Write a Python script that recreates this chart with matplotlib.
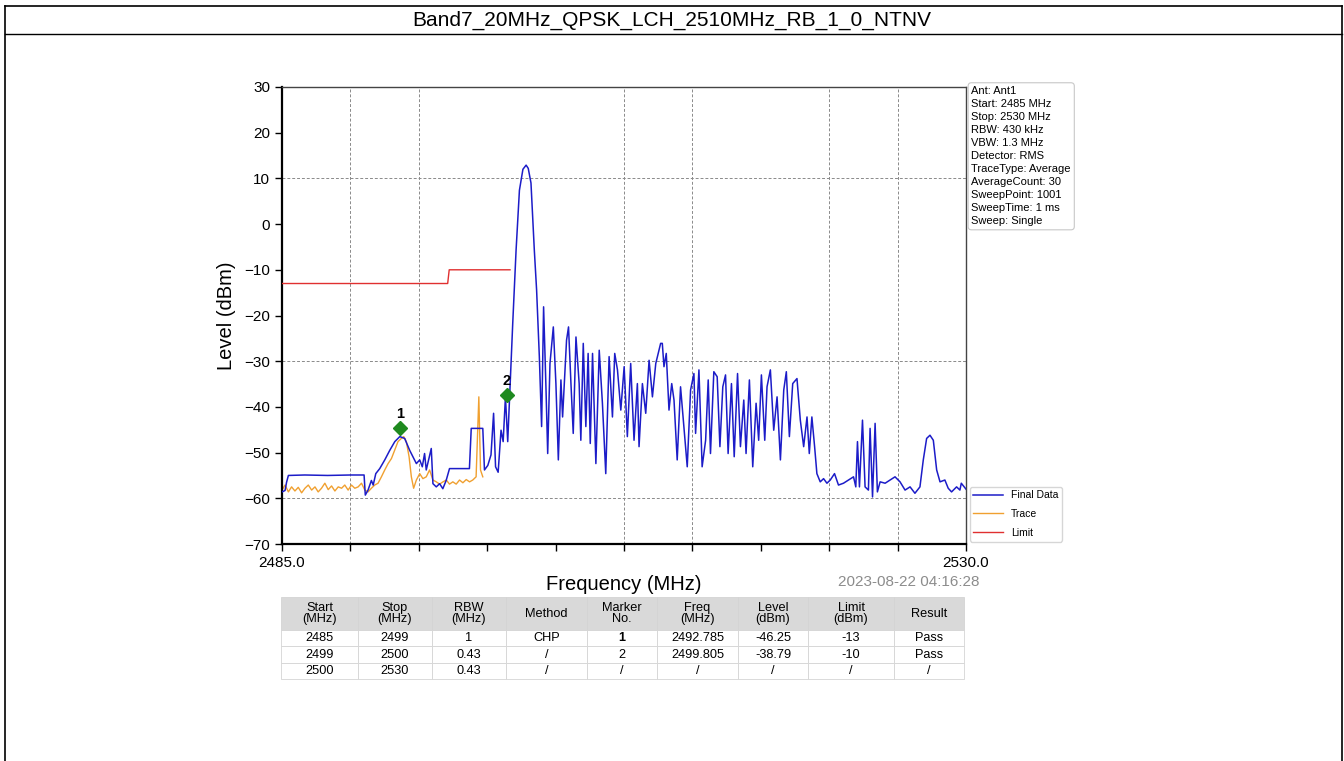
import numpy as np
import matplotlib
matplotlib.use('Agg')
import matplotlib.pyplot as plt
from matplotlib.lines import Line2D

plt.rcParams['font.family'] = ['Liberation Sans', 'DejaVu Sans']

# заголовок и параметры
title = 'Band7_20MHz_QPSK_LCH_2510MHz_RB_1_0_NTNV'
info_lines = ['Ant: Ant1', 'Start: 2485 MHz', 'Stop: 2530 MHz', 'RBW: 430 kHz',
              'VBW: 1.3 MHz', 'Detector: RMS', 'TraceType: Average',
              'AverageCount: 30', 'SweepPoint: 1001', 'SweepTime: 1 ms',
              'Sweep: Single']
timestamp = '2023-08-22 04:16:28'

# Final Data (синяя кривая)
blue_freq = [2485.00, 2485.20, 2485.30, 2485.42, 2486.50, 2488.00, 2489.50, 2490.40,
             2490.48, 2490.66, 2490.88, 2491.00, 2491.17, 2491.43, 2491.76, 2492.09,
             2492.42, 2492.75, 2493.07, 2493.40, 2493.84, 2494.06, 2494.23, 2494.38,
             2494.49, 2494.82, 2494.93, 2495.15, 2495.37, 2495.58, 2495.80, 2496.02,
             2497.33, 2497.45, 2498.21, 2498.32, 2498.54, 2498.75, 2498.92, 2499.05,
             2499.22, 2499.41, 2499.55, 2499.70, 2499.85, 2499.97, 2500.07, 2500.18,
             2500.40, 2500.62, 2500.85, 2501.06, 2501.20, 2501.38, 2501.60, 2501.75,
             2501.93, 2502.08, 2502.21, 2502.37, 2502.48, 2502.63, 2502.85, 2503.02,
             2503.18, 2503.35, 2503.46, 2503.72, 2503.85, 2504.01, 2504.16, 2504.34,
             2504.55, 2504.66, 2504.82, 2504.99, 2505.14, 2505.28, 2505.43, 2505.65,
             2505.87, 2506.08, 2506.30, 2506.52, 2506.74, 2506.89, 2507.07, 2507.29,
             2507.51, 2507.72, 2507.94, 2508.16, 2508.38, 2508.49, 2508.71, 2508.93,
             2509.15, 2509.37, 2509.59, 2509.91, 2510.02, 2510.13, 2510.28, 2510.46,
             2510.64, 2510.79, 2511.00, 2511.22, 2511.44, 2511.66, 2511.88, 2512.10,
             2512.21, 2512.43, 2512.64, 2512.87, 2513.04, 2513.19, 2513.41, 2513.63,
             2513.81, 2514.00, 2514.18, 2514.35, 2514.57, 2514.75, 2514.97, 2515.16,
             2515.38, 2515.53, 2515.75, 2515.97, 2516.19, 2516.36, 2516.54, 2516.76,
             2516.91, 2517.13, 2517.35, 2517.57, 2517.79, 2518.01, 2518.18, 2518.38,
             2518.60, 2518.88, 2519.10, 2519.32, 2519.54, 2519.69, 2519.86, 2520.04,
             2520.19, 2520.41, 2520.63, 2520.85, 2521.07, 2521.35, 2521.61, 2521.94,
             2522.27, 2522.60, 2522.75, 2522.86, 2522.99, 2523.19, 2523.36, 2523.58,
             2523.69, 2523.85, 2524.02, 2524.17, 2524.35, 2524.68, 2525.00, 2525.33,
             2525.66, 2525.99, 2526.32, 2526.64, 2526.97, 2527.19, 2527.41, 2527.63,
             2527.85, 2528.07, 2528.29, 2528.61, 2528.83, 2529.05, 2529.38, 2529.60,
             2529.69, 2530.00]
blue_level = [-58.6, -58.3, -56.5, -55.0, -54.9, -55.0, -54.9, -54.9,
              -59.3, -58.2, -56.1, -57.1, -54.6, -53.5, -51.6, -49.5,
              -47.6, -46.5, -46.9, -49.5, -52.4, -51.6, -53.1, -50.2,
              -53.8, -49.1, -56.8, -57.5, -56.8, -57.9, -56.1, -53.5,
              -53.5, -44.7, -44.7, -53.8, -52.8, -50.5, -41.4, -53.1,
              -54.3, -45.1, -47.6, -37.8, -47.6, -38.0, -30.4, -21.7,
              -5.7, 7.4, 12.0, 12.9, 12.2, 9.0, -5.7, -14.4,
              -29.0, -44.3, -18.1, -36.3, -50.2, -30.5, -22.5, -34.9,
              -51.6, -34.1, -42.2, -25.4, -22.5, -34.9, -45.8, -24.7,
              -34.9, -47.3, -26.1, -44.3, -28.3, -48.0, -28.3, -52.4,
              -27.6, -39.2, -54.6, -29.0, -42.2, -28.3, -31.9, -40.7,
              -31.2, -46.5, -30.5, -47.3, -34.9, -48.7, -34.9, -41.4,
              -29.8, -37.8, -30.5, -26.1, -26.1, -31.2, -28.3, -40.7,
              -34.9, -38.5, -51.6, -35.6, -44.3, -53.1, -36.3, -32.7,
              -45.8, -31.9, -53.1, -47.3, -34.1, -50.2, -32.3, -33.4,
              -48.7, -35.6, -33.0, -50.2, -34.9, -50.9, -32.7, -48.7,
              -38.5, -50.2, -34.1, -53.1, -39.2, -47.3, -33.0, -47.3,
              -35.6, -31.9, -45.1, -37.8, -51.6, -36.3, -32.3, -46.5,
              -34.9, -33.8, -42.9, -48.7, -42.2, -50.2, -42.2, -48.7,
              -54.6, -56.4, -55.7, -56.7, -56.0, -54.6, -57.1, -56.7,
              -56.0, -55.3, -57.5, -47.6, -57.5, -42.9, -57.5, -58.2,
              -44.7, -59.7, -43.6, -58.6, -56.4, -56.7, -56.0, -55.3,
              -56.4, -58.2, -57.5, -58.9, -57.5, -51.6, -46.9, -46.2,
              -47.3, -53.8, -56.4, -56.0, -57.8, -58.6, -57.5, -58.2,
              -56.7, -58.0]

# Trace (оранжевая кривая)
orange_freq = [2485.00, 2485.20, 2485.42, 2485.63, 2485.85, 2486.07, 2486.29, 2486.51,
               2486.73, 2486.95, 2487.17, 2487.38, 2487.60, 2487.82, 2488.04, 2488.26,
               2488.48, 2488.70, 2488.92, 2489.13, 2489.35, 2489.57, 2489.79, 2490.01,
               2490.23, 2490.45, 2490.66, 2490.88, 2491.10, 2491.32, 2491.54, 2491.76,
               2491.98, 2492.20, 2492.41, 2492.63, 2492.85, 2493.01, 2493.18, 2493.36,
               2493.51, 2493.66, 2493.84, 2494.06, 2494.27, 2494.49, 2494.71, 2494.93,
               2495.15, 2495.37, 2495.59, 2495.81, 2496.02, 2496.24, 2496.46, 2496.68,
               2496.90, 2497.12, 2497.34, 2497.55, 2497.77, 2497.95, 2498.06, 2498.21]
orange_level = [-58.2, -57.1, -58.6, -57.5, -58.4, -57.6, -58.8, -57.8,
                -57.1, -58.2, -57.5, -58.6, -57.8, -56.7, -58.1, -57.3,
                -58.4, -57.5, -57.8, -57.1, -58.2, -57.1, -57.8, -57.5,
                -56.7, -58.2, -58.6, -57.8, -57.1, -56.7, -55.3, -53.8,
                -52.4, -51.3, -49.5, -47.6, -46.9, -46.5, -47.6, -50.9,
                -55.3, -57.8, -56.0, -54.6, -55.7, -55.3, -53.8, -56.0,
                -56.4, -56.9, -56.4, -56.0, -56.9, -56.4, -56.9, -56.0,
                -56.6, -55.9, -56.4, -56.0, -55.3, -37.8, -53.8, -55.3]

# линия лимита
limit_freq = [2485.0, 2495.9, 2496.0, 2500.0]
limit_level = [-13.0, -13.0, -10.0, -10.0]

# маркеры
marker_no = ['1', '2']
marker_freq = [2492.785, 2499.805]
marker_level = [-44.7, -37.4]

# таблица результатов
col_labels = ['Start\n(MHz)', 'Stop\n(MHz)', 'RBW\n(MHz)', 'Method', 'Marker\nNo.',
              'Freq\n(MHz)', 'Level\n(dBm)', 'Limit\n(dBm)', 'Result']
table_rows = [['2485', '2499', '1', 'CHP', '1', '2492.785', '-46.25', '-13', 'Pass'],
              ['2499', '2500', '0.43', '/', '2', '2499.805', '-38.79', '-10', 'Pass'],
              ['2500', '2530', '0.43', '/', '/', '/', '/', '/', '/']]
col_widths = [77, 74, 74, 81, 70, 81, 70, 86, 70]

W, H = 1344, 761
fig = plt.figure(figsize=(W / 100, H / 100), dpi=100)

# рамка и заголовок
fig.add_artist(Line2D([5 / W, 5 / W], [0, 1 - 6 / H], color='black', lw=1.2))
fig.add_artist(Line2D([1342 / W, 1342 / W], [0, 1 - 6 / H], color='black', lw=1.2))
fig.add_artist(Line2D([5 / W, 1342 / W], [1 - 6 / H, 1 - 6 / H], color='black', lw=1.2))
fig.add_artist(Line2D([5 / W, 1342 / W], [1 - 34 / H, 1 - 34 / H], color='black', lw=1.0))
fig.text(0.5, 1 - 20 / H, title, ha='center', va='center', fontsize=15)

ax = fig.add_axes([282 / W, 1 - 544 / H, (966 - 282) / W, (544 - 87) / H])
ax.plot(blue_freq, blue_level, color='#1c1cc8', lw=1.1, label='Final Data', zorder=3)
ax.plot(orange_freq, orange_level, color='#f0a030', lw=1.0, label='Trace', zorder=2)
ax.plot(limit_freq, limit_level, color='#e03030', lw=1.0, label='Limit', zorder=3)

ax.plot(marker_freq, marker_level, 'D', color='#1f8a1f', ms=7, zorder=5)
for n, f, l in zip(marker_no, marker_freq, marker_level):
    ax.text(f, l + 1.6, n, ha='center', va='bottom', fontsize=10.5, fontweight='bold', zorder=6)

ax.set_xlim(2485, 2530)
ax.set_ylim(-70, 30)
xt = np.linspace(2485, 2530, 11)
ax.set_xticks(xt)
ax.set_xticklabels(['2485.0'] + [''] * 9 + ['2530.0'])
ax.set_yticks(np.arange(-70, 31, 10))
ax.tick_params(direction='out', length=5, width=1, labelsize=11)

# сетка (видна только часть линий)
for i in [1, 2, 5, 6, 8, 9]:
    ax.axvline(xt[i], color='#8a8a8a', ls=(0, (3, 2)), lw=0.7, zorder=1)
for yv in [10, -30, -60]:
    ax.axhline(yv, color='#8a8a8a', ls=(0, (3, 2)), lw=0.7, zorder=1)

for s in ['left', 'bottom']:
    ax.spines[s].set_linewidth(1.6)
for s in ['top', 'right']:
    ax.spines[s].set_linewidth(1.0)
    ax.spines[s].set_color('#444444')

ax.set_xlabel('Frequency (MHz)', fontsize=14.5, labelpad=4)
ax.set_ylabel('Level (dBm)', fontsize=14.5, labelpad=6)

ax.text(1.008, 1.002, '\n'.join(info_lines), transform=ax.transAxes, ha='left', va='top',
        fontsize=8.0, linespacing=1.38,
        bbox=dict(boxstyle='round,pad=0.3', fc='white', ec='#c8c8c8', lw=0.8))

ax.legend(loc='lower left', bbox_to_anchor=(0.998, -0.006), fontsize=7.5, frameon=True,
          edgecolor='#cccccc', fancybox=True, handlelength=2.8, borderpad=0.35,
          labelspacing=0.85)

fig.text(980 / W, 1 - 582 / H, timestamp, ha='right', va='center', fontsize=11, color='#8c8c8c')

# таблица
tax = fig.add_axes([281 / W, 1 - 679 / H, 683 / W, 82 / H])
tax.axis('off')
tab = tax.table(cellText=table_rows, colLabels=col_labels, cellLoc='center',
                colWidths=[w / sum(col_widths) for w in col_widths], bbox=[0, 0, 1, 1])
tab.auto_set_font_size(False)
tab.set_fontsize(9.2)
for (r, c), cell in tab.get_celld().items():
    cell.set_edgecolor('#d4d4d4')
    cell.set_linewidth(0.6)
    if r == 0:
        cell.set_facecolor('#d9d9d9')
        cell.set_height(33)
    else:
        cell.set_height(16.3)
    cell.get_text().set_linespacing(0.95)
tab[1, 4].get_text().set_fontweight('bold')

fig.savefig('out.png', dpi=100)
